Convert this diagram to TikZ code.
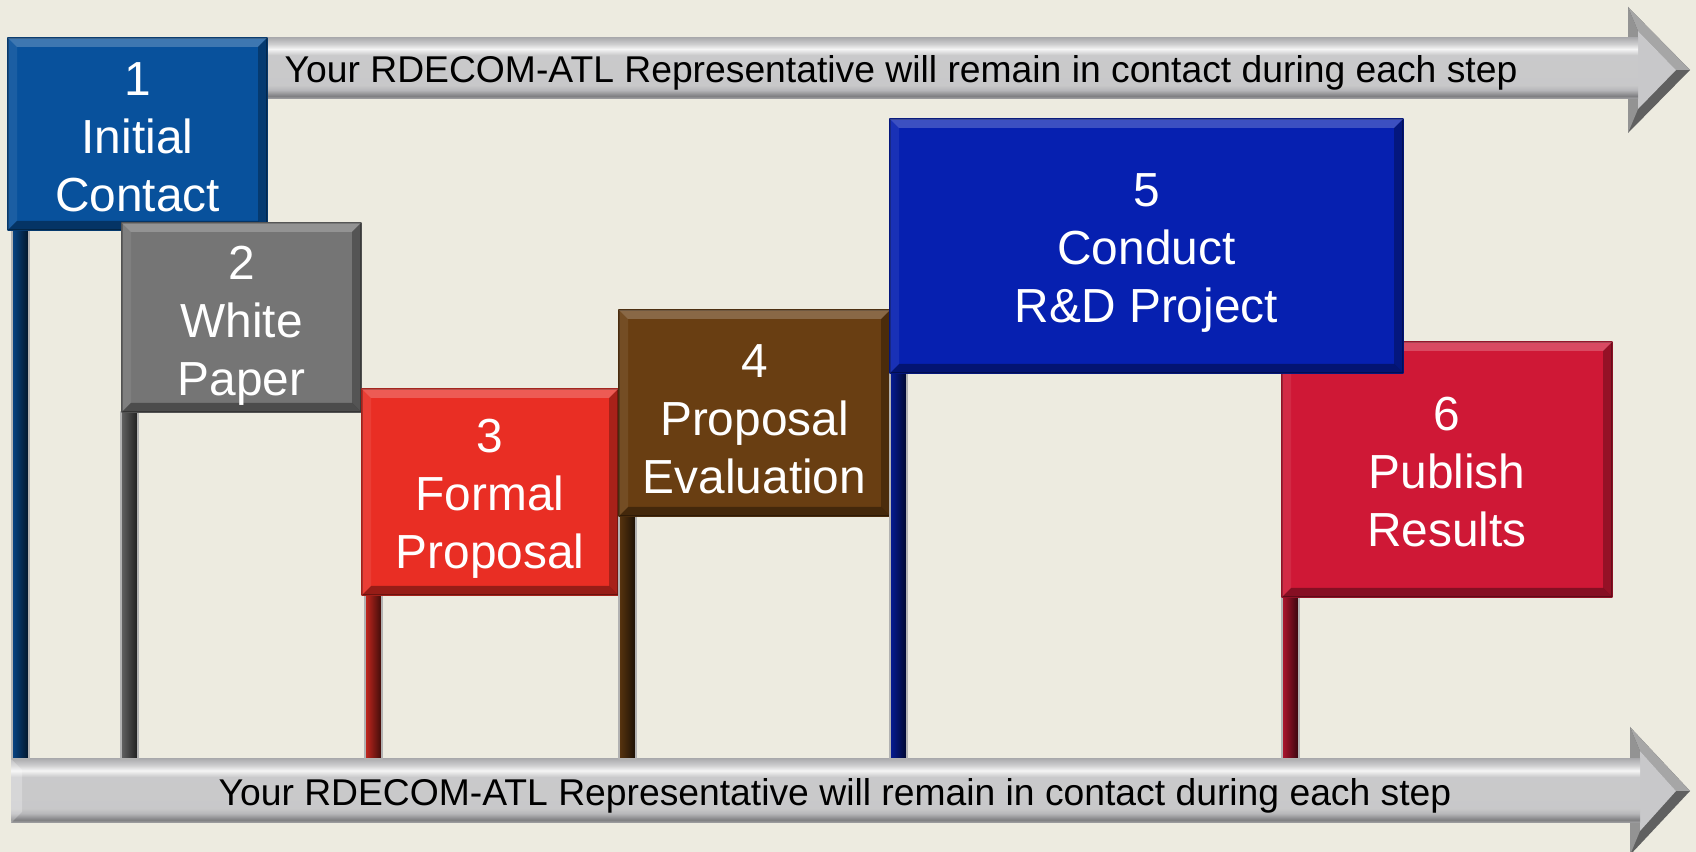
\documentclass[tikz,border=0pt]{standalone}
\usepackage{fontspec}
\setmainfont{Liberation Sans}
\usetikzlibrary{calc}

\definecolor{bgcream}{RGB}{237,235,224}
\definecolor{arrowgray}{RGB}{200,200,202}
\definecolor{stepA}{RGB}{8,81,156}
\definecolor{stepB}{RGB}{117,117,117}
\definecolor{stepC}{RGB}{233,46,36}
\definecolor{stepD}{RGB}{105,62,18}
\definecolor{stepE}{RGB}{6,32,176}
\definecolor{stepF}{RGB}{207,24,54}

\pgfdeclareverticalshading{shaftshade}{100bp}{rgb(0bp)=(.65,.65,.66); rgb(25bp)=(.65,.65,.66); rgb(27.5bp)=(.5,.5,.51); rgb(32.5bp)=(.72,.72,.73); rgb(36.5bp)=(.785,.785,.79); rgb(61bp)=(.79,.79,.795); rgb(66bp)=(.96,.96,.96); rgb(70bp)=(.81,.81,.815); rgb(75bp)=(.68,.68,.69); rgb(100bp)=(.68,.68,.69)}

\begin{document}
\begin{tikzpicture}[x=0.01cm, y=-0.01cm, line join=round,
	stepbox/.style={inner sep=0pt, align=center, text=white, font=\fontsize{13.6}{16.5}\selectfont},
	notetext/.style={inner sep=0pt, text=black, font=\fontsize{10.6}{12.6}\selectfont}]
	
	% ----------------------------
	% 0) Canvas
	% ----------------------------
	\fill[bgcream] (0,0) rectangle (1696,852);
	\useasboundingbox (0,0) rectangle (1696,852);
	\def\tip{1690}
	\def\bv{9}
	\def\baseY{759}
	
	% ----------------------------
	% 1) Contact arrows (top and bottom)
	% ----------------------------
	\foreach \sx/\ex/\ya/\yb/\ha/\hb in {250/1628/38/99/7/133, 11/1630/759/823/727/855}{
		\pgfmathsetmacro\ym{(\ha+\hb)/2}
		% head: dark body, upper facet, flat face
		\fill[gray!75!black] (\ex,\ha) -- (\tip,\ym) -- (\ex,\hb) -- cycle;
		\fill[gray!70] (\ex,\ha) -- (\tip,\ym) -- (\tip-14,\ym) -- (\ex+10,\ha+24) -- cycle;
		\fill[gray!85] (\ex,\ha) -- (\ex+10,\ha+24) -- (\ex+10,\hb-24) -- (\ex,\hb) -- cycle;
		\fill[arrowgray] (\ex+10,\ha+24) -- (\tip-14,\ym) -- (\ex+10,\hb-24) -- cycle;
		% shaft
		\shade[shading=shaftshade] (\sx,\ya) rectangle (\ex+10,\yb);
	}
	\fill[white, opacity=.25] (11,759) -- (22,770) -- (22,812) -- (11,823) -- cycle;
	
	\node[notetext, anchor=base west] (topnote) at (284,83)
	{Your RDECOM-ATL Representative will remain in contact during each step};
	\node[notetext, anchor=base] (botnote) at (835,806)
	{Your RDECOM-ATL Representative will remain in contact during each step};
	
	% ----------------------------
	% 2) Step signs with their posts
	%    (6 before 5: box 5 lies over box 6)
	% ----------------------------
	\foreach \k/\xa/\ya/\xb/\yb/\clr/\px/\dy/\txt in {
		1/8/38/267/230/stepA/4/3/{1\\Initial\\Contact},
		2/122/223/361/412/stepB/-1/8/{2\\White\\Paper},
		3/362/389/618/595/stepC/3/7/{3\\Formal\\Proposal},
		4/619/310/890/516/stepD/0/6/{4\\Proposal\\Evaluation},
		6/1282/342/1612/597/stepF/0/3/{6\\Publish\\Results},
		5/890/119/1403/373/stepE/0/7/{5\\Conduct\\R\&D Project}%
	}{
		% post down to the bottom arrow
		\shade[left color=\clr!85!black, middle color=\clr, right color=\clr!25!black]
		(\xa+\px,\yb) rectangle (\xa+\px+17,\baseY);
		\draw[gray!60, line width=.3pt] (\xa+\px,\yb) rectangle (\xa+\px+17,\baseY);
		
		% sign face
		\fill[\clr] (\xa,\ya) rectangle (\xb,\yb);
		\draw[\clr!70!black, line width=.4pt] (\xa,\ya) rectangle (\xb,\yb);
		
		% bevel edges
		\fill[white, opacity=.22] (\xa,\ya) -- (\xb,\ya) -- (\xb-\bv,\ya+\bv) -- (\xa+\bv,\ya+\bv) -- cycle;
		\fill[white, opacity=.08] (\xa,\ya) -- (\xa+\bv,\ya+\bv) -- (\xa+\bv,\yb-\bv) -- (\xa,\yb) -- cycle;
		\fill[black, opacity=.28] (\xb,\ya) -- (\xb,\yb) -- (\xb-\bv,\yb-\bv) -- (\xb-\bv,\ya+\bv) -- cycle;
		\fill[black, opacity=.35] (\xa,\yb) -- (\xb,\yb) -- (\xb-\bv,\yb-\bv) -- (\xa+\bv,\yb-\bv) -- cycle;
		
		\node[stepbox] (step\k) at ({(\xa+\xb)/2},{(\ya+\yb)/2+\dy}) {\txt};
	}
	
\end{tikzpicture}
\end{document}
